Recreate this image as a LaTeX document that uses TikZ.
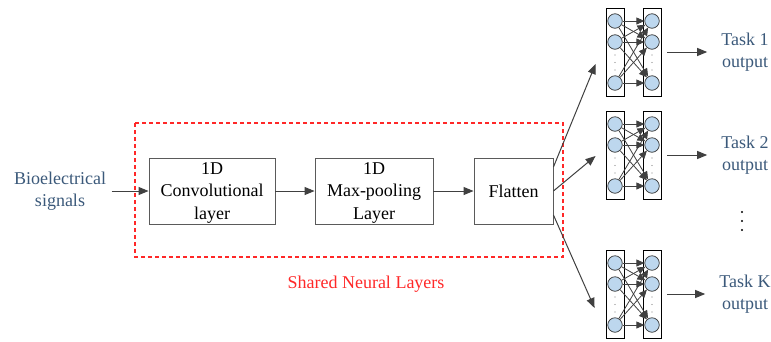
\documentclass[tikz,border=0pt]{standalone}
\usepackage{fontspec}
\setmainfont{Liberation Serif}
\usetikzlibrary{arrows.meta}
\definecolor{txtblue}{RGB}{59,89,122}
\definecolor{linegray}{RGB}{64,64,64}
\definecolor{boxgray}{RGB}{90,90,90}
\definecolor{nodeblue}{RGB}{189,215,238}
\definecolor{dashred}{RGB}{255,40,40}
\begin{document}
\begin{tikzpicture}[x=1pt,y=-1pt,
  every node/.style={font=\fontsize{18}{22.5}\selectfont},
  layerbox/.style={draw=boxgray, line width=0.9pt, minimum height=66pt, align=center, inner sep=0pt},
  arr/.style={draw=linegray, line width=1pt, -{Triangle[length=10pt,width=8pt]}},
  netarr/.style={draw=black!75, line width=0.8pt, -{Triangle[length=8pt,width=7pt]}},
  netrect/.style={draw=black, line width=0.9pt, minimum width=18pt, minimum height=88pt, inner sep=0pt},
  neuron/.style={circle, draw=black!80, line width=0.7pt, fill=nodeblue, minimum size=14.5pt, inner sep=0pt},
  sharedline/.style={color=dashred, line width=1.2pt, dash pattern=on 4pt off 3pt},
  tasktxt/.style={text=txtblue, align=center, inner sep=0pt}
]
\useasboundingbox (0,0) rectangle (771,341);

% shared layers
\coordinate (shtl) at (135,123);
\coordinate (shbr) at (563,257);
\draw[sharedline] (shtl) rectangle (shbr);
\node[text=dashred] (shl) at (366,284) {Shared Neural Layers};

\node[text=txtblue, align=center] (bio) at (60,191) {Bioelectrical\\signals};
\node[layerbox, minimum width=126pt] (conv) at (212,191) {\strut1D\\Convolutional\\layer};
\node[layerbox, minimum width=118pt] (pool) at (374,191) {\strut1D\\Max-pooling\\Layer};
\node[layerbox, minimum width=79pt] (flat) at (513.5,191) {Flatten};

\draw[arr, shorten <=2pt] (bio.east) -- (conv.west);
\draw[arr] (conv.east) -- (pool.west);
\draw[arr] (pool.east) -- (flat.west);

% task networks
\foreach \n/\t/\lab in {a/8/1, b/111/2, c/250/K}{
  \node[netrect] (\n-L) at (615,\t+44) {};
  \node[netrect] (\n-R) at (652,\t+44) {};
  \foreach \i/\o in {1/13, 2/34, 3/75}{
    \node[neuron] (\n-l\i) at (615,\t+\o) {};
    \node[neuron] (\n-r\i) at (652,\t+\o) {};
  }
  \foreach \d in {47,54.5,62}{
    \fill[gray] (615,\t+\d) circle (0.6pt);
    \fill[gray] (652,\t+\d) circle (0.6pt);
  }
  \foreach \i in {1,2,3}{
    \foreach \j in {1,2,3}{
      \draw[netarr] (\n-l\i) -- (\n-r\j);
    }
  }
  \node[tasktxt] (\n-task) at (745,\t+44) {Task \lab\\output};
  \draw[arr, shorten <=6pt, shorten >=14pt] (\n-R.east) -- (\n-task.west);
}

\draw[arr] ([yshift=24pt]flat.east) -- ([shift={(-10,12)}]a-L.west);
\draw[arr] (flat.east) -- ([shift={(-10,1)}]b-L.west);
\draw[arr] ([yshift=-24pt]flat.east) -- ([shift={(-11,14)}]c-L.west);

% vertical ellipsis between tasks
\fill[black] (742,212) circle (1.1pt);
\fill[black] (742,221) circle (1.1pt);
\fill[black] (742,230) circle (1.1pt);
\end{tikzpicture}
\end{document}
